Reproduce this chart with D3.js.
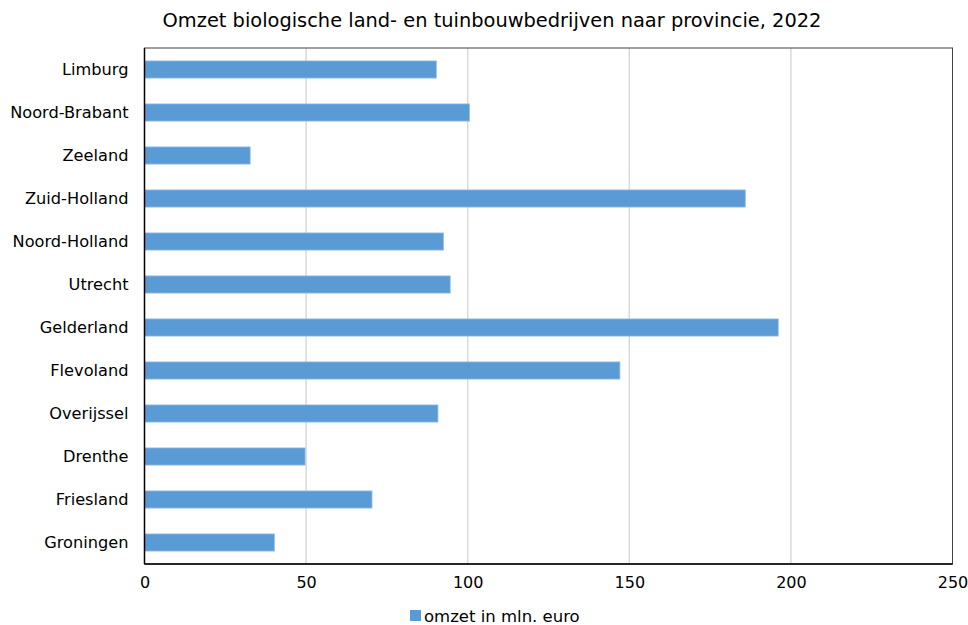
<!DOCTYPE html>
<html><head><meta charset="utf-8">
<script src="https://cdn.jsdelivr.net/npm/d3@7"></script>
<style>body{margin:0;background:#fff;} text{font-family:"DejaVu Sans",Verdana,sans-serif;fill:#000;}</style>
</head><body>
<svg id="c" width="968" height="625"></svg>
<script>
const categories = ["Limburg","Noord-Brabant","Zeeland","Zuid-Holland","Noord-Holland","Utrecht","Gelderland","Flevoland","Overijssel","Drenthe","Friesland","Groningen"];
const values = [90.3,100.6,32.7,185.9,92.5,94.6,196.1,147.1,90.8,49.7,70.4,40.2];
const ticks = [0,50,100,150,200,250];
const title = "Omzet biologische land- en tuinbouwbedrijven naar provincie, 2022";
const seriesName = "omzet in mln. euro";

const svg = d3.select("#c");
const m = {l:144.5, r:952.5, t:48, b:564};
const x = d3.scaleLinear().domain([0,250]).range([m.l, m.r]);
const y = d3.scaleBand().domain(categories).range([m.t, m.b]).paddingInner(0.6).paddingOuter(0.3);

svg.append("text").attr("x",492).attr("y",27).attr("text-anchor","middle").style("font-size","19.4px").text(title);

// gridlines
svg.append("g").selectAll("line").data(ticks.slice(1,-1)).join("line")
  .attr("x1",d=>x(d)).attr("x2",d=>x(d)).attr("y1",m.t).attr("y2",m.b)
  .attr("stroke","#d9d9d9").attr("stroke-width",1.5);

// bars
svg.append("g").selectAll("rect").data(categories).join("rect")
  .attr("x",x(0)).attr("y",d=>y(d)).attr("width",(d,i)=>x(values[i])-x(0)).attr("height",y.bandwidth())
  .attr("fill","#5b9bd5").attr("stroke","#9dc3e6").attr("stroke-width",0.8);

// frame
svg.append("rect").attr("x",m.l).attr("y",m.t).attr("width",m.r-m.l).attr("height",m.b-m.t)
  .attr("fill","none").attr("stroke","#404040").attr("stroke-width",1);
svg.append("line").attr("x1",m.l).attr("x2",m.l).attr("y1",m.t).attr("y2",m.b).attr("stroke","#000").attr("stroke-width",1.5);
svg.append("line").attr("x1",m.l).attr("x2",m.r).attr("y1",m.b).attr("y2",m.b).attr("stroke","#000").attr("stroke-width",1.5);

// x axis labels
const xa = svg.append("g").attr("transform",`translate(0,${m.b})`)
  .call(d3.axisBottom(x).tickValues(ticks).tickSize(0).tickPadding(13));
xa.select(".domain").remove();
xa.selectAll("text").style("font-size","16px").style("font-family","'DejaVu Sans',Verdana,sans-serif").attr("fill","#000");

// y axis labels
const ya = svg.append("g").attr("transform",`translate(${m.l},0)`)
  .call(d3.axisLeft(y).tickSize(0).tickPadding(16));
ya.select(".domain").remove();
ya.selectAll("text").style("font-size","16.2px").style("font-family","'DejaVu Sans',Verdana,sans-serif").attr("fill","#000");

// legend
const lg = svg.append("g");
lg.append("rect").attr("x",410).attr("y",610).attr("width",11).attr("height",11).attr("fill","#5b9bd5");
lg.append("text").attr("x",424).attr("y",622).style("font-size","16.5px").text(seriesName);
</script>
</body></html>
